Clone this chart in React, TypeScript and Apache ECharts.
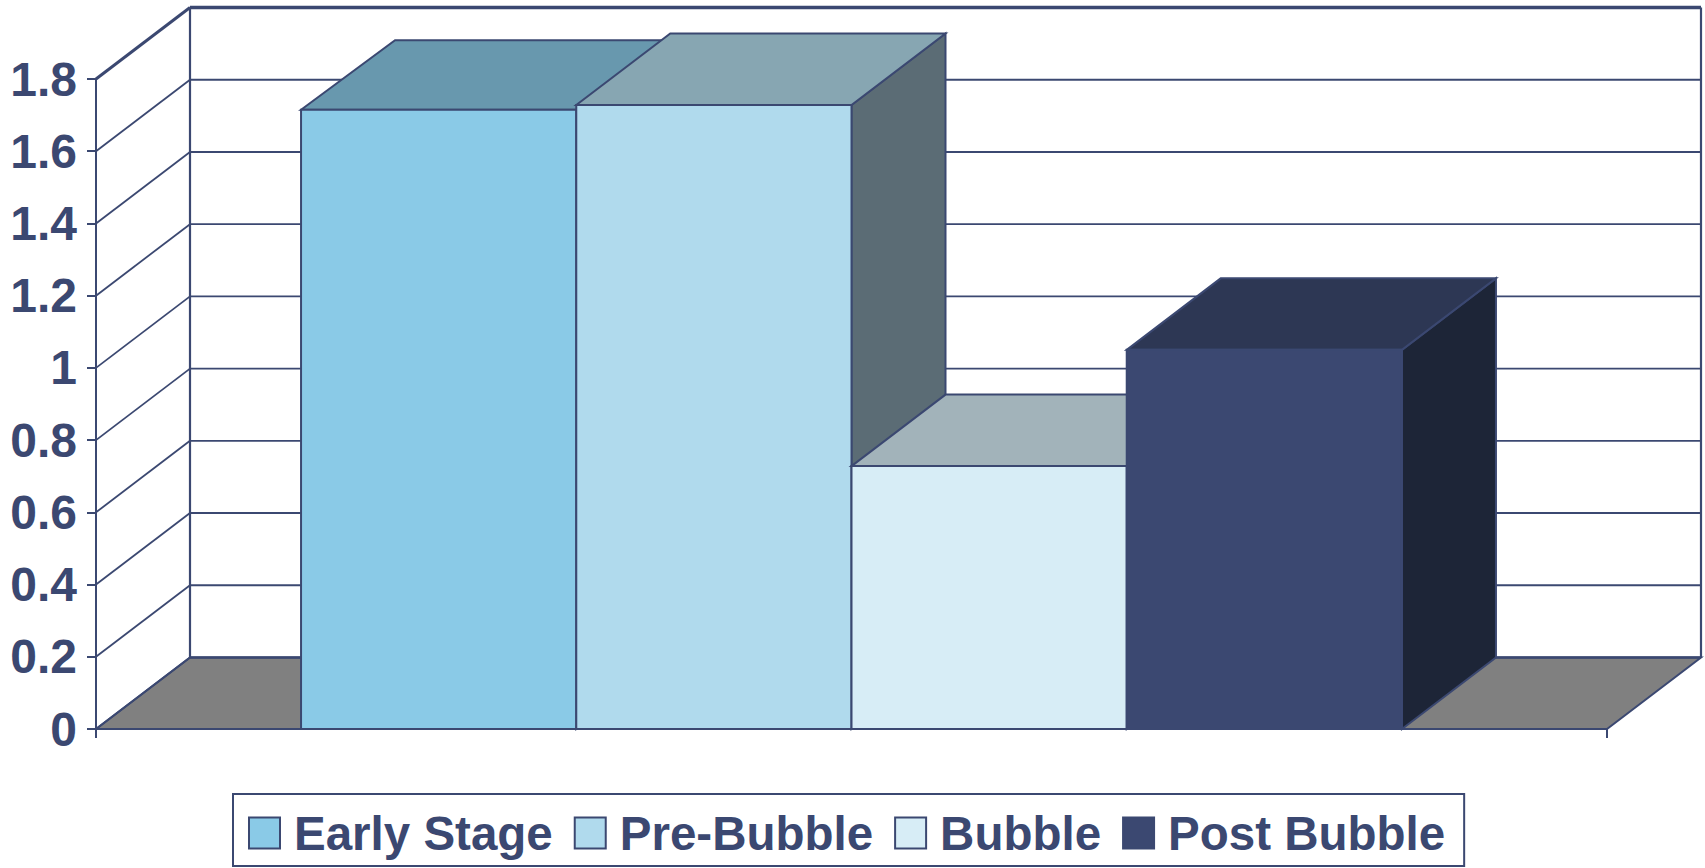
import React, { useEffect, useRef } from "react";
import * as echarts from "echarts";

const stageNames = ["Early Stage", "Pre-Bubble", "Bubble", "Post Bubble"];
const stageValues = [1.715, 1.728, 0.728, 1.05];
const yTicks = [0, 0.2, 0.4, 0.6, 0.8, 1, 1.2, 1.4, 1.6, 1.8];
const categories = [""];

const faceColors = ["#8ACAE7", "#B0DAED", "#D7EDF6", "#3B4871"];
const topColors = ["#6898AE", "#87A6B2", "#A2B3BA", "#2D3754"];
const sideColors = ["#4F7484", "#5B6C75", "#7B8A90", "#1D2537"];

const INK = "#3B4871";
const FONT = "'Liberation Sans', Arial, sans-serif";
// Oblique offset of the box depth, and the empty share beside the bars.
const DEPTH_X = 94;
const DEPTH_Y = 71.5;
const stageDepthY = [69.5, 71.5, 71.5, 71.5];
const GAP_RATIO = 0.745;

const polygon = (points: number[][], fill: string, stroke: string, lineWidth = 2) => ({
  type: "polygon",
  shape: { points },
  style: { fill, stroke, lineWidth, lineJoin: "miter" },
});

const line = (points: number[][], lineWidth: number) => ({
  type: "polyline",
  shape: { points },
  style: { fill: "none", stroke: INK, lineWidth, lineJoin: "miter" },
});

function App() {
  const ref = useRef<HTMLDivElement>(null);

  useEffect(() => {
    const chart = echarts.init(ref.current!, null, { renderer: "svg" });

    // Slanted wall lines that run from the value axis to the back plane.
    const wallLevels = {
      type: "custom",
      silent: true,
      data: yTicks.map((v) => [0, v]),
      encode: { x: 0, y: 1 },
      renderItem: (params: any, api: any) => {
        const sys = params.coordSys;
        const y = api.coord([0, api.value(1)])[1];
        const left = sys.x;
        const right = sys.x + sys.width;
        const value = api.value(1);
        const isTop = value === yTicks[yTicks.length - 1];
        const isFloor = value === 0;
        const children: any[] = [];
        if (isFloor) {
          children.push(
            polygon(
              [
                [left, y],
                [left + DEPTH_X, y - DEPTH_Y],
                [right + DEPTH_X, y - DEPTH_Y],
                [right, y],
              ],
              "#808080",
              INK,
              2
            )
          );
        }
        children.push(
          line([[left, y], [left + DEPTH_X, y - DEPTH_Y]], isTop ? 3 : isFloor ? 2 : 1.8),
          line(
            [[left + DEPTH_X, y - DEPTH_Y], [right + DEPTH_X, y - DEPTH_Y]],
            isTop ? 3.5 : isFloor ? 2.5 : 1.9
          )
        );
        if (isTop) {
          const floorY = api.coord([0, 0])[1] - DEPTH_Y;
          children.push(
            line([[left + DEPTH_X, y - DEPTH_Y], [left + DEPTH_X, floorY]], 2.2),
            line([[right + DEPTH_X, y - DEPTH_Y], [right + DEPTH_X, floorY]], 2.2)
          );
        }
        return { type: "group", children };
      },
      z: 1,
    };

    // One extruded box per stage, later stages painted over earlier ones.
    const stageSeries = stageNames.map((name, index) => ({
      name,
      type: "custom",
      data: [[0, stageValues[index]]],
      encode: { x: 0, y: 1 },
      itemStyle: { color: faceColors[index], borderColor: INK, borderWidth: 2 },
      renderItem: (_params: any, api: any) => {
        const band = api.size([1, 0])[0];
        const barWidth = band / (stageNames.length + 2 * GAP_RATIO);
        const [center, top] = api.coord([0, api.value(1)]);
        const bottom = api.coord([0, 0])[1];
        const x0 = center - band / 2 + barWidth * (GAP_RATIO + index);
        const x1 = x0 + barWidth;
        const dy = stageDepthY[index];
        return {
          type: "group",
          children: [
            polygon(
              [
                [x1, top],
                [x1 + DEPTH_X, top - dy],
                [x1 + DEPTH_X, bottom - DEPTH_Y],
                [x1, bottom],
              ],
              sideColors[index],
              INK
            ),
            polygon(
              [
                [x0, top],
                [x0 + DEPTH_X, top - dy],
                [x1 + DEPTH_X, top - dy],
                [x1, top],
              ],
              topColors[index],
              INK
            ),
            polygon(
              [
                [x0, top],
                [x1, top],
                [x1, bottom],
                [x0, bottom],
              ],
              faceColors[index],
              INK
            ),
          ],
        };
      },
      z: 2,
    }));

    chart.setOption({
      animation: false,
      backgroundColor: "#FFFFFF",
      textStyle: { fontFamily: FONT },
      grid: { left: 96, top: 79, width: 1511, height: 650, containLabel: false },
      xAxis: {
        type: "category",
        data: categories,
        boundaryGap: true,
        axisLine: { show: true, lineStyle: { color: INK, width: 2 } },
        axisTick: { show: true, length: 9, lineStyle: { color: INK, width: 2 } },
        axisLabel: { show: false },
        splitLine: { show: false },
      },
      yAxis: {
        type: "value",
        min: 0,
        max: 1.8,
        interval: 0.2,
        axisLine: { show: true, lineStyle: { color: INK, width: 2 } },
        axisTick: { show: true, length: 9, lineStyle: { color: INK, width: 2 } },
        axisLabel: {
          margin: 19,
          color: INK,
          fontFamily: FONT,
          fontWeight: "bold",
          fontSize: 48,
        },
        splitLine: { show: false },
      },
      legend: {
        data: stageNames,
        left: 233,
        top: 794,
        orient: "horizontal",
        icon: "rect",
        itemWidth: 31,
        itemHeight: 31,
        itemGap: 21,
        padding: [15, 19, 9, 15],
        borderColor: INK,
        borderWidth: 2,
        selectedMode: false,
        itemStyle: { borderColor: INK, borderWidth: 2 },
        textStyle: {
          color: INK,
          fontFamily: FONT,
          fontWeight: "bold",
          fontSize: 47.5,
          padding: [0, 0, 0, 9],
        },
      },
      series: [wallLevels, ...stageSeries],
    });

    return () => chart.dispose();
  }, []);

  return (
    <div
      ref={ref}
      style={{ position: "fixed", left: 0, top: 0, width: 1705, height: 868 }}
    />
  );
}

export default App;
